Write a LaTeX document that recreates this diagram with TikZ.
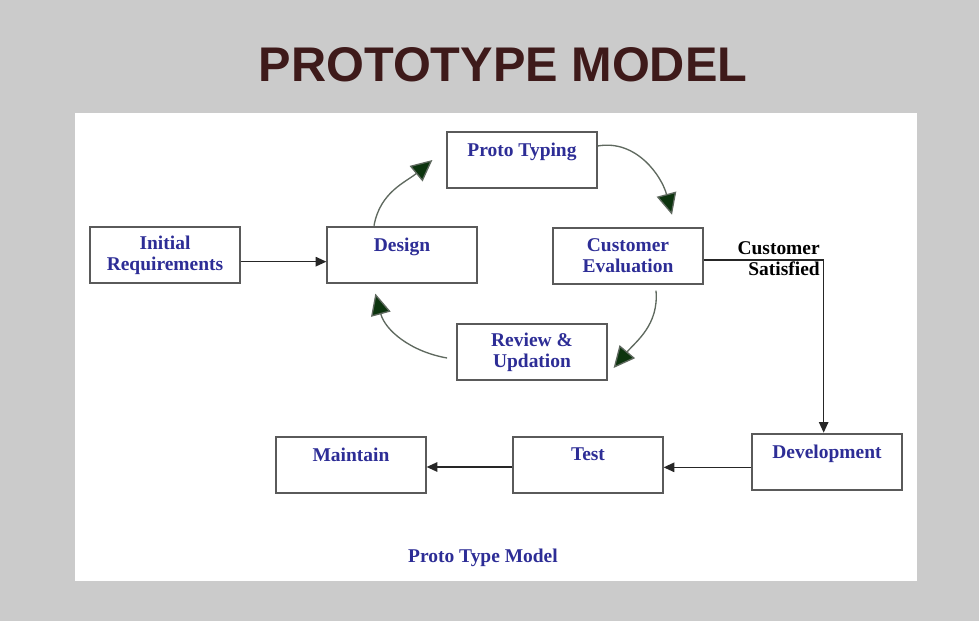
\documentclass[tikz,border=0pt]{standalone}
\usepackage{fontspec}
\setmainfont{Liberation Serif}
\newfontfamily\titlefont{Liberation Sans}
\usetikzlibrary{
	positioning
	, arrows.meta
	, calc
}
\definecolor{slidegray}{RGB}{203,203,203}
\definecolor{titlebrown}{RGB}{62,26,26}
\definecolor{boxblue}{RGB}{45,45,150}
\definecolor{tipgreen}{RGB}{12,52,14}
\definecolor{curvegray}{RGB}{95,105,95}
\definecolor{boxedge}{RGB}{90,90,90}

\begin{document}
\begin{tikzpicture}[x=0.75pt, y=-0.75pt]
	\begin{scope}[
		phase/.style={draw=boxedge, line width=1.4pt, fill=white, inner sep=0,
			minimum width=112pt, minimum height=42.5pt, align=center,
			text=boxblue, font=\bfseries\fontsize{14.6}{15.75}\selectfont},
		flow/.style={draw=black!85, line width=1.2pt, -{Triangle[length=8pt, width=7pt]}},
		cycle/.style={draw=curvegray, line width=1pt,
			-{Triangle[length=16pt, width=15pt, fill=tipgreen]}}]

		\useasboundingbox (0, 0) rectangle (979, 621);
		\fill[slidegray] (0, 0) rectangle (979, 621);
		\fill[white] (75, 113) rectangle (917, 581);

		%% Title
		\node[text=titlebrown, font=\titlefont\bfseries\fontsize{36.5}{40}\selectfont] (title) at (503, 65) {PROTOTYPE MODEL};

		%% Prototyping loop
		\node[phase] (init) at (165, 255) {Initial\\Requirements};
		\node[phase] (design) at (402, 255) {Design\\\mbox{}};
		\node[phase] (proto) at (522, 160) {Proto Typing\\\mbox{}};
		\node[phase] (eval) at (628, 256) {Customer\\Evaluation};
		\node[phase] (review) at (532, 352) {Review \&\\Updation};

		%% Delivery row
		\node[phase] (develop) at (827, 462) {Development\\\mbox{}};
		\node[phase] (test) at (588, 465) {Test\\\mbox{}};
		\node[phase] (maintain) at (351, 465) {Maintain\\\mbox{}};

		% Labels
		\node[anchor=east, inner sep=0, align=right, font=\bfseries\fontsize{14.6}{15.75}\selectfont] (satisfied) at (820, 259) {Customer\\Satisfied};
		\node[text=boxblue, font=\bfseries\fontsize{14.6}{15.75}\selectfont] (caption) at (483, 558) {Proto Type Model};

		% Straight connectors
		\draw[flow] ([yshift=-5pt]init.east) -- ([yshift=-5pt]design.west);
		\draw[flow] ([yshift=-3pt]eval.east) -| ([xshift=-2.5pt]develop.north);
		\draw[flow] ([yshift=-4pt]develop.west) -- ([yshift=-4pt]develop.west -| test.east);
		\draw[flow] ([yshift=-1.5pt]test.west) -- ([yshift=-1.5pt]maintain.east);

		% Curved connectors
		\draw[cycle] ([xshift=-21pt]design.north) to[out=80, in=220] ([xshift=-10.5pt]proto.west);
		\draw[cycle] ([yshift=10.5pt]proto.east) to[out=10, in=105] ([xshift=33pt, yshift=9pt]eval.north);
		\draw[cycle] ([xshift=21pt, yshift=-4pt]eval.south) to[out=-85, in=50] ([xshift=4.5pt, yshift=-12pt]review.east);
		\draw[cycle] ([xshift=-7pt, yshift=-4.5pt]review.west) to[out=170, in=-75] ([xshift=-20pt, yshift=-7pt]design.south);
	\end{scope}
\end{tikzpicture}
\end{document}
